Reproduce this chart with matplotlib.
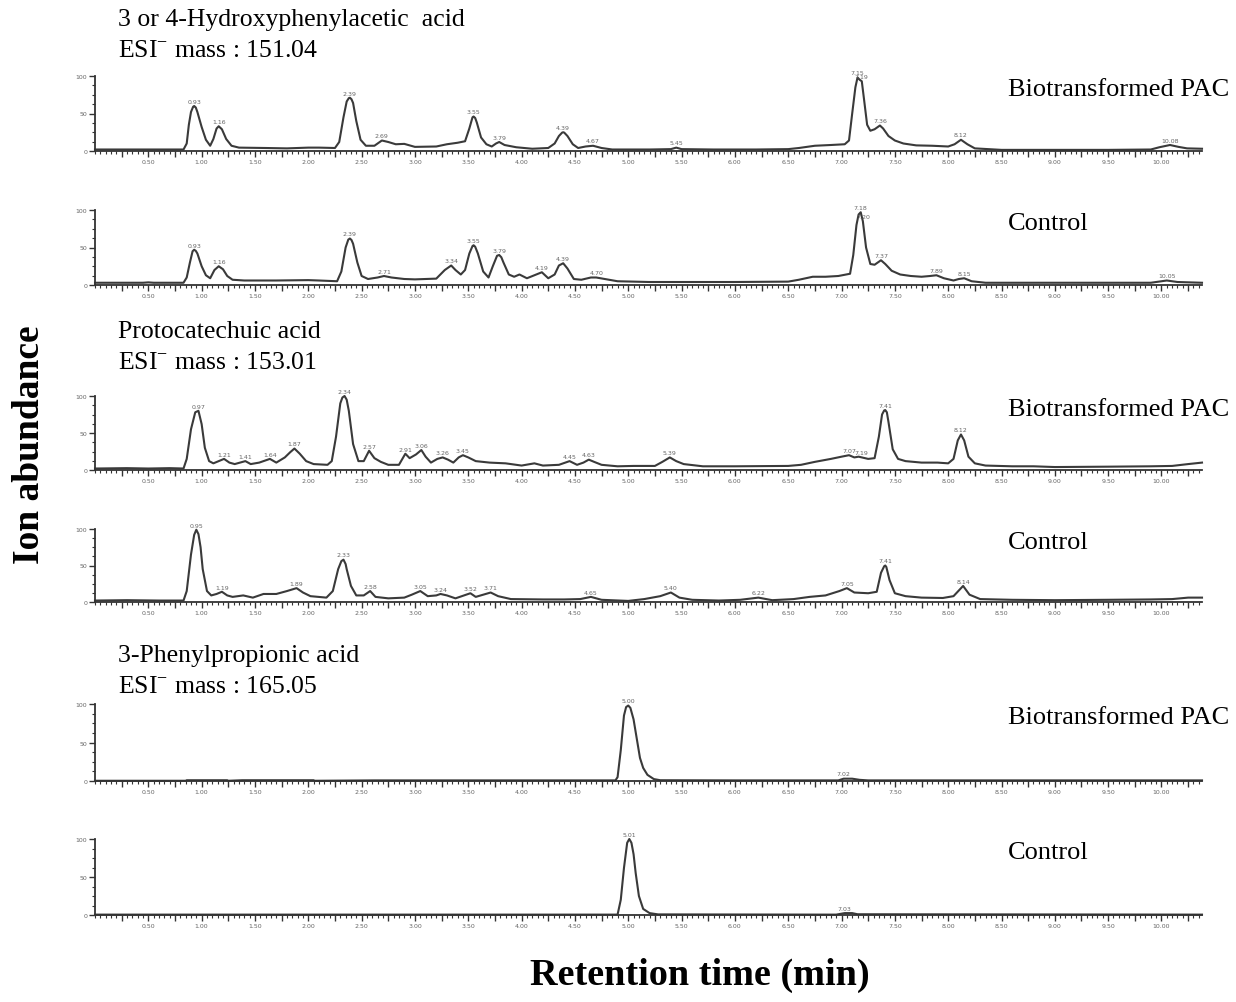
import numpy as np
import matplotlib
matplotlib.use("Agg")
from matplotlib import pyplot as plt
from matplotlib.ticker import MultipleLocator

plt.rcParams['font.family'] = ['Liberation Serif', 'DejaVu Serif']
plt.rcParams['mathtext.fontset'] = 'custom'
plt.rcParams['mathtext.rm'] = 'Liberation Serif'

# extracted ion chromatograms: (retention time [min], relative abundance [%])
hpa_bio = [(0.0, 2), (0.4, 2), (0.83, 2), (0.86, 10), (0.88, 35), (0.90, 52), (0.92, 59), (0.93, 60),
           (0.945, 58), (0.96, 52), (1.00, 32), (1.04, 15), (1.08, 7), (1.11, 16), (1.14, 30), (1.16, 33),
           (1.19, 29), (1.23, 16), (1.28, 7), (1.35, 4.5), (1.6, 4), (1.8, 3.5), (2.0, 4.5), (2.1, 4.5),
           (2.25, 4), (2.29, 12), (2.33, 45), (2.36, 66), (2.38, 70.5), (2.39, 71), (2.405, 69), (2.42, 64),
           (2.45, 40), (2.49, 15), (2.54, 7), (2.62, 7), (2.69, 14), (2.75, 12), (2.82, 9), (2.90, 9.5),
           (3.00, 5.5), (3.20, 6), (3.30, 9), (3.40, 11), (3.47, 13), (3.51, 30), (3.54, 45), (3.55, 46),
           (3.565, 44), (3.58, 38), (3.62, 18), (3.67, 9), (3.72, 6), (3.76, 10), (3.79, 12), (3.84, 8),
           (3.95, 5), (4.10, 3), (4.25, 4), (4.31, 10), (4.35, 20), (4.38, 24.5), (4.39, 25), (4.40, 24.5),
           (4.43, 20), (4.48, 9), (4.53, 4), (4.60, 6), (4.67, 7), (4.75, 4), (4.85, 2), (5.2, 2),
           (5.40, 2.5), (5.45, 4.5), (5.50, 2.5), (5.8, 2), (6.2, 2), (6.5, 2.5), (6.6, 4), (6.75, 7),
           (6.9, 8), (7.03, 9), (7.07, 14), (7.10, 50), (7.13, 85), (7.15, 98), (7.17, 95), (7.19, 93),
           (7.21, 70), (7.24, 35), (7.27, 27), (7.31, 29), (7.36, 34), (7.39, 30), (7.44, 20), (7.50, 14),
           (7.58, 10), (7.70, 7.5), (7.85, 7), (8.00, 6), (8.06, 9), (8.12, 15), (8.18, 9), (8.25, 3.5),
           (8.5, 1.5), (9.0, 1.5), (9.5, 1.5), (9.9, 2), (9.98, 5), (10.08, 8), (10.16, 5.5), (10.24, 3.5),
           (10.38, 3)]
hpa_ctl = [(0.0, 3), (0.45, 3), (0.5, 3.5), (0.55, 3), (0.83, 3), (0.86, 10), (0.89, 30), (0.915, 45),
           (0.93, 47), (0.945, 45.5), (0.96, 42), (1.00, 25), (1.04, 13), (1.08, 9), (1.12, 20), (1.16, 25),
           (1.20, 21), (1.24, 12), (1.29, 7), (1.40, 6), (1.7, 6), (2.0, 6.5), (2.1, 6), (2.27, 5),
           (2.31, 18), (2.35, 50), (2.375, 60.5), (2.39, 62), (2.405, 60), (2.42, 55), (2.46, 30), (2.50, 12),
           (2.56, 8), (2.65, 10), (2.71, 12), (2.78, 10), (2.9, 8), (3.0, 7.5), (3.2, 8.5), (3.28, 20),
           (3.34, 26), (3.38, 20), (3.43, 14), (3.47, 20), (3.51, 42), (3.54, 52), (3.55, 53), (3.565, 51),
           (3.59, 42), (3.64, 18), (3.69, 10), (3.73, 25), (3.77, 39), (3.79, 40), (3.81, 37), (3.83, 30),
           (3.88, 14), (3.93, 11), (3.98, 14), (4.05, 9), (4.12, 13), (4.19, 17), (4.25, 9), (4.31, 14),
           (4.35, 26), (4.39, 29), (4.43, 22), (4.49, 8), (4.56, 7), (4.65, 10), (4.70, 10), (4.78, 8),
           (4.9, 5), (5.2, 4), (5.6, 4), (6.0, 4), (6.5, 4.5), (6.6, 7), (6.73, 11), (6.85, 11), (6.97, 12),
           (7.08, 15), (7.11, 40), (7.14, 80), (7.16, 94), (7.18, 97), (7.20, 85), (7.23, 50), (7.27, 28),
           (7.31, 27), (7.37, 33), (7.41, 28), (7.47, 19), (7.55, 14), (7.65, 12), (7.75, 11), (7.83, 12),
           (7.89, 13), (7.96, 9), (8.05, 6), (8.10, 8), (8.15, 9), (8.22, 5), (8.35, 3), (9.0, 3), (9.9, 3),
           (10.05, 6), (10.15, 4), (10.38, 3)]
pca_bio = [(0.0, 2), (0.3, 2.5), (0.5, 2), (0.7, 2.5), (0.83, 2), (0.86, 15), (0.90, 55), (0.94, 78),
           (0.97, 80), (1.00, 62), (1.03, 30), (1.07, 12), (1.11, 9), (1.16, 12), (1.21, 15), (1.26, 10),
           (1.31, 8), (1.36, 10), (1.41, 12), (1.46, 8), (1.54, 10), (1.60, 13), (1.64, 15), (1.70, 10),
           (1.78, 17), (1.83, 24), (1.87, 29), (1.92, 22), (1.98, 12), (2.05, 8), (2.18, 7), (2.22, 12),
           (2.26, 45), (2.30, 90), (2.32, 98), (2.34, 100), (2.36, 95), (2.38, 80), (2.42, 35), (2.47, 12),
           (2.52, 12), (2.57, 26), (2.62, 16), (2.68, 11), (2.75, 7), (2.85, 7), (2.91, 22), (2.95, 16),
           (3.01, 21), (3.06, 27), (3.10, 18), (3.15, 10), (3.21, 15), (3.26, 17), (3.31, 14), (3.36, 10),
           (3.41, 17), (3.45, 20), (3.50, 17), (3.57, 12), (3.70, 10), (3.85, 9), (4.00, 6), (4.12, 9),
           (4.20, 6), (4.35, 7), (4.45, 12), (4.52, 7), (4.58, 10), (4.63, 14), (4.68, 11), (4.75, 7),
           (4.90, 5), (5.05, 5.5), (5.25, 5.5), (5.32, 11), (5.39, 17), (5.45, 12), (5.52, 8), (5.7, 5),
           (6.0, 5), (6.5, 5.5), (6.62, 7), (6.75, 11), (6.90, 15), (7.00, 18), (7.07, 20), (7.12, 17),
           (7.16, 18), (7.19, 17), (7.25, 15), (7.31, 16), (7.35, 45), (7.38, 75), (7.40, 80.5), (7.41, 81),
           (7.425, 78), (7.44, 65), (7.48, 28), (7.53, 15), (7.60, 12), (7.75, 10), (7.90, 10), (8.00, 9),
           (8.05, 15), (8.09, 40), (8.12, 48), (8.15, 40), (8.19, 18), (8.25, 9), (8.35, 6), (8.6, 5),
           (8.8, 5), (9.0, 4), (9.5, 4.5), (9.9, 5), (10.1, 5.5), (10.25, 8), (10.38, 10)]
pca_ctl = [(0.0, 2), (0.3, 2.5), (0.6, 2), (0.83, 2), (0.86, 15), (0.90, 65), (0.93, 92), (0.95, 99),
           (0.97, 93), (0.99, 75), (1.01, 45), (1.05, 15), (1.09, 9), (1.14, 11), (1.19, 14), (1.24, 9),
           (1.29, 7), (1.39, 9), (1.48, 6), (1.58, 11), (1.70, 11), (1.80, 15), (1.89, 19), (1.95, 13),
           (2.02, 8), (2.17, 6), (2.23, 15), (2.28, 45), (2.31, 56), (2.33, 58), (2.35, 52), (2.36, 45),
           (2.40, 22), (2.45, 9), (2.52, 9), (2.58, 15), (2.63, 7), (2.75, 5), (2.90, 6), (2.97, 10),
           (3.05, 15), (3.12, 8), (3.20, 9), (3.24, 11), (3.30, 9), (3.38, 5), (3.46, 9), (3.52, 12),
           (3.57, 7), (3.64, 10), (3.71, 13), (3.78, 8), (3.9, 4), (4.2, 3.5), (4.4, 3.5), (4.55, 4),
           (4.65, 7), (4.75, 3), (5.0, 1.5), (5.15, 4), (5.3, 8), (5.40, 13), (5.48, 6), (5.6, 3),
           (5.85, 2), (6.05, 3), (6.22, 6), (6.35, 2.5), (6.55, 4), (6.7, 7), (6.85, 9), (6.98, 15),
           (7.05, 19), (7.12, 13), (7.25, 12), (7.33, 14), (7.37, 40), (7.40, 49), (7.41, 50), (7.42, 48),
           (7.45, 30), (7.50, 12), (7.6, 8), (7.75, 6), (7.95, 5.5), (8.05, 8), (8.14, 22), (8.20, 10),
           (8.30, 4), (8.6, 3), (9.0, 2.5), (9.5, 3), (9.9, 3.5), (10.1, 4), (10.25, 6), (10.38, 6)]
ppa_bio = [(0.0, 0.3), (0.85, 0.3), (0.86, 1), (1.24, 1), (1.25, 0.3), (1.38, 1), (2.05, 1), (2.06, 0.3),
           (2.62, 0.8), (4.0, 0.8), (4.88, 0.8), (4.90, 5), (4.93, 40), (4.96, 85), (4.98, 96), (5.00, 98),
           (5.02, 95), (5.05, 80), (5.08, 55), (5.11, 30), (5.14, 17), (5.18, 8), (5.24, 2.5), (5.30, 1),
           (6.0, 0.8), (6.97, 0.8), (7.02, 3), (7.10, 3), (7.17, 1.5), (7.25, 0.8), (10.38, 0.8)]
ppa_ctl = [(0.0, 0.5), (4.90, 0.5), (4.93, 20), (4.96, 62), (4.99, 95), (5.01, 100), (5.03, 95),
           (5.05, 80), (5.07, 55), (5.10, 25), (5.14, 8), (5.20, 2.5), (5.28, 0.8), (6.95, 0.5),
           (7.03, 2.5), (7.10, 2.5), (7.15, 1), (10.38, 0.5)]

# annotated retention times for each trace
hpa_bio_rt = [0.93, 1.16, 2.39, 2.69, 3.55, 3.79, 4.39, 4.67, 5.45, 7.15, 7.19, 7.36, 8.12, 10.08]
hpa_ctl_rt = [0.93, 1.16, 2.39, 2.71, 3.34, 3.55, 3.79, 4.19, 4.39, 4.70, 7.18, 7.20, 7.37, 7.89, 8.15, 10.05]
pca_bio_rt = [0.97, 1.21, 1.41, 1.64, 1.87, 2.34, 2.57, 2.91, 3.06, 3.26, 3.45, 4.45, 4.63, 5.39,
              7.07, 7.19, 7.41, 8.12]
pca_ctl_rt = [0.95, 1.19, 1.89, 2.33, 2.58, 3.05, 3.24, 3.52, 3.71, 4.65, 5.40, 6.22, 7.05, 7.41, 8.14]
ppa_bio_rt = [5.00, 7.02]
ppa_ctl_rt = [5.01, 7.03]

compounds = ["3 or 4-Hydroxyphenylacetic  acid", "Protocatechuic acid", "3-Phenylpropionic acid"]
masses = ["151.04", "153.01", "165.05"]
samples = ["Biotransformed PAC", "Control"]

traces = [(hpa_bio, hpa_bio_rt), (hpa_ctl, hpa_ctl_rt), (pca_bio, pca_bio_rt),
          (pca_ctl, pca_ctl_rt), (ppa_bio, ppa_bio_rt), (ppa_ctl, ppa_ctl_rt)]

W, H = 1236, 1003
fig = plt.figure(figsize=(W / 100, H / 100), dpi=100)

def fx(px):
    return px / W

def fy(py):
    return 1 - py / H

# panel frames in pixels: (top of 100 %, baseline)
frames = [(77, 152), (211, 286), (397, 471), (530, 603), (705, 782), (840, 916)]
left, right = 95, 1202
xt = np.arange(0.25, 10.3, 0.25)

for k, ((data, rts), (top, base)) in enumerate(zip(traces, frames)):
    ax = fig.add_axes([fx(left), fy(base), fx(right - left), (base - top) / H])
    t = np.array([p[0] for p in data])
    y = np.array([p[1] for p in data])
    ax.plot(t, y, color="#3a3a3a", lw=1.5, clip_on=False, solid_joinstyle="round")
    for rt in rts:
        i = np.argmin(abs(t - rt))
        ax.text(rt, y[i] + 3, "%.2f" % rt, fontsize=4.5, color="#666666",
                ha="center", va="bottom", family="DejaVu Sans")
    ax.set_xlim(0, 10.38)
    ax.set_ylim(0, 100)
    ax.spines["top"].set_visible(False)
    ax.spines["right"].set_visible(False)
    for side in ["left", "bottom"]:
        ax.spines[side].set_color("#333333")
        ax.spines[side].set_linewidth(1.3)
    ax.set_xticks(xt)
    ax.set_xticklabels(["%.2f" % v if abs(v * 2 - round(v * 2)) < 1e-6 else "" for v in xt])
    ax.xaxis.set_minor_locator(MultipleLocator(0.05))
    ax.set_yticks([0, 50, 100])
    ax.set_yticklabels(["0", "50", "100"])
    ax.yaxis.set_minor_locator(MultipleLocator(12.5))
    ax.tick_params(which="major", length=4, width=1, colors="#333333", labelsize=4.5,
                   labelcolor="#666666", pad=1.5)
    ax.tick_params(which="minor", length=2, width=0.8, colors="#333333")
    for lab in ax.get_xticklabels() + ax.get_yticklabels():
        lab.set_family("DejaVu Sans")
    ax.patch.set_alpha(0)

    fig.text(fx(1008), fy(top + 13), samples[k % 2], fontsize=19, va="center", ha="left")

# compound headings
heads = [(20, 52), (332, 364), (656, 688)]
for name, mass, (y1, y2) in zip(compounds, masses, heads):
    fig.text(fx(118), fy(y1), name, fontsize=18.5, va="center", ha="left")
    fig.text(fx(118), fy(y2), r"ESI$^{-}$ mass : " + mass, fontsize=18.5, va="center", ha="left")

fig.text(fx(30), fy(445), "Ion abundance", fontsize=27, fontweight="bold",
         rotation=90, ha="center", va="center")
fig.text(fx(700), fy(975), "Retention time (min)", fontsize=27.5, fontweight="bold",
         ha="center", va="center")

plt.savefig("out.png", dpi=100)
